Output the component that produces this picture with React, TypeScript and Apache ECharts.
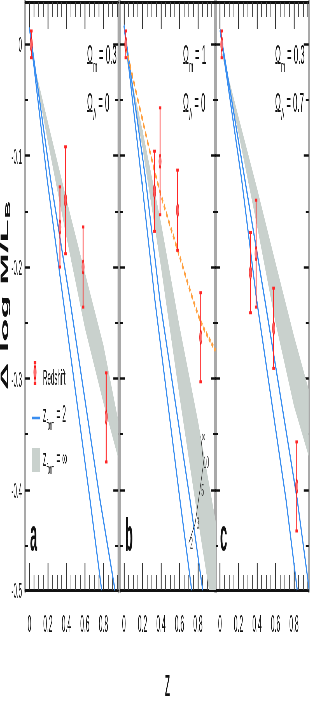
import React, { useEffect, useRef } from "react";
import * as echarts from "echarts";

// whole figure is drawn wide, then squeezed horizontally (the reference is a squeezed figure)
const S = 0.28;
const W = 311 / S;
const H = 708;
const X = (x: number) => x / S;
const FONT = "'Liberation Sans', Arial, sans-serif";

const panelLetters = ["a", "b", "c"];
const omegaM = ["0.3", "1", "0.3"];
const omegaL = ["0", "0", "0.7"];
const xRanges = [
  [-0.048, 0.961],
  [-0.043, 0.995],
  [-0.054, 0.959],
];
const gridLefts = [25, 120, 215];
const gridWidths = [93.3, 96, 93.7];

const xTickVals = [0, 0.2, 0.4, 0.6, 0.8];
const xTickLabels = ["0", "0.2", "0.4", "0.6", "0.8"];
const xMinorVals = [0.05, 0.1, 0.15, 0.25, 0.3, 0.35, 0.45, 0.5, 0.55, 0.65, 0.7, 0.75, 0.85, 0.9, 0.95];
const yMin = -0.49;
const yMax = 0.038;
const yMajorVals = [0, -0.1, -0.2, -0.3, -0.4];
const yMinorVals = [-0.05, -0.15, -0.25, -0.35, -0.45];
const yLabelVals = [0, -0.1, -0.2, -0.3, -0.4, -0.49];
const yTickLabels = ["0", "-0.1", "-0.2", "-0.3", "-0.4", "-0.5"];

// cluster data (redshift, Δ log M/L_B, error)
const clusterZ = [0.02, 0.33, 0.39, 0.58, 0.83];
const dlogA = [0, -0.164, -0.14, -0.2, -0.335];
const dlogB = [0, -0.132, -0.105, -0.149, -0.263];
const dlogC = [0, -0.205, -0.188, -0.255, -0.397];
const dlogErr = [0.012, 0.036, 0.048, 0.036, 0.04];

// z_form = 2 model curves (two per panel)
const blueA1 = [[0, 0.015], [0.193, -0.122], [0.366, -0.23], [0.655, -0.409], [0.781, -0.49]];
const blueA2 = [[0, 0.015], [0.23, -0.122], [0.439, -0.23], [0.763, -0.409], [0.925, -0.49]];
const blueB1 = [[0, 0.017], [0.191, -0.122], [0.335, -0.23], [0.605, -0.409], [0.732, -0.49]];
const blueB2 = [[0, 0.017], [0.235, -0.122], [0.389, -0.23], [0.714, -0.409], [0.851, -0.49]];
const blueC1 = [[0, 0.013], [0.235, -0.122], [0.397, -0.23], [0.714, -0.409], [0.835, -0.49]];
const blueC2 = [[0, 0.013], [0.27, -0.122], [0.486, -0.23], [0.835, -0.409], [0.965, -0.49]];

// z_form = ∞ band (lower / upper edge)
const bandALow = [[0, 0], [0.2, -0.088], [0.4, -0.173], [0.6, -0.255], [0.8, -0.322], [0.961, -0.372]];
const bandAUp = [[0, 0], [0.2, -0.07], [0.4, -0.139], [0.6, -0.205], [0.8, -0.27], [0.961, -0.338]];
const bandBLow = [[0, 0], [0.2, -0.093], [0.4, -0.2], [0.6, -0.316], [0.8, -0.427], [0.995, -0.53]];
const bandBUp = [[0, 0], [0.2, -0.077], [0.4, -0.16], [0.6, -0.253], [0.8, -0.338], [0.995, -0.43]];
const bandCLow = [[0, 0], [0.2, -0.08], [0.4, -0.163], [0.6, -0.25], [0.8, -0.325], [0.959, -0.37]];
const bandCUp = [[0, 0], [0.2, -0.065], [0.4, -0.129], [0.6, -0.196], [0.8, -0.262], [0.959, -0.31]];

// dashed fit in panel b
const orangeB = [[0.02, -0.002], [0.35, -0.12], [0.6, -0.19], [0.82, -0.247], [0.99, -0.275]];

// z_form scale drawn in panel b (label, z, Δ log M/L position)
const zfLabels = ["∞", "10", "5", "3", "2"];
const zfPosZ = [0.86, 0.89, 0.85, 0.8, 0.73];
const zfPosV = [-0.352, -0.376, -0.401, -0.43, -0.448];

const dlogs = [dlogA, dlogB, dlogC];
const blues = [[blueA1, blueA2], [blueB1, blueB2], [blueC1, blueC2]];
const bands = [[bandALow, bandAUp], [bandBLow, bandBUp], [bandCLow, bandCUp]];

const RED = "#ff2626";
const BLUE = "#3a8ef0";
const BAND = "#c9d1cd";

let measureCtx: CanvasRenderingContext2D | null = null;
function measure(text: string, size: number, weight = "normal") {
  if (!measureCtx) measureCtx = document.createElement("canvas").getContext("2d");
  if (!measureCtx) return text.length * size * 0.55;
  measureCtx.font = `${weight} ${size}px ${FONT}`;
  return measureCtx.measureText(text).width;
}

function txt(x: number, y: number, text: string, size: number, extra: any = {}) {
  return {
    type: "text",
    x,
    y,
    silent: true,
    style: {
      text,
      fontSize: size,
      fontFamily: FONT,
      fill: "#111",
      textAlign: "left",
      textVerticalAlign: "middle",
      ...extra,
    },
  };
}

// text with a subscript: main + sub + rest, left aligned at (x,y) (unscaled coords)
function subLabel(x: number, y: number, main: string, sub: string, rest: string, size: number, subSize: number) {
  const w1 = measure(main, size);
  const w2 = measure(sub, subSize);
  return {
    type: "group",
    x,
    y,
    silent: true,
    children: [
      txt(0, 0, main, size),
      txt(w1 + 1, size * 0.45, sub, subSize),
      txt(w1 + w2 + 8, 0, rest, size),
    ],
  };
}

function buildOption() {
  const grids: any[] = [];
  const xAxes: any[] = [];
  const yAxes: any[] = [];
  const series: any[] = [];
  const fmtX = (v: number) => {
    const k = xTickVals.findIndex((t) => Math.abs(t - v) < 1e-6);
    return k >= 0 ? xTickLabels[k] : "";
  };
  const fmtY = (v: number) => {
    const k = yLabelVals.findIndex((t) => Math.abs(t - v) < 1e-6);
    return k >= 0 ? yTickLabels[k] : "";
  };

  for (let i = 0; i < 3; i++) {
    grids.push({ left: X(gridLefts[i]), width: X(gridWidths[i]), top: 2, height: 588, containLabel: false });
    const [mn, mx] = xRanges[i];
    const xBase = { type: "value", gridIndex: i, min: mn, max: mx, splitLine: { show: false } };
    xAxes.push({
      ...xBase,
      position: "bottom",
      axisLine: { show: true, onZero: false, lineStyle: { color: "#111", width: 3 } },
      axisTick: { show: true, inside: true, length: 27, customValues: xTickVals, lineStyle: { color: "#333", width: X(0.9) } },
      axisLabel: {
        show: true,
        customValues: xTickVals,
        formatter: fmtX,
        margin: 22,
        fontSize: 24,
        fontFamily: FONT,
        color: "#111",
      },
    });
    xAxes.push({
      ...xBase,
      position: "bottom",
      axisLine: { show: false, onZero: false },
      axisTick: { show: true, inside: true, length: 15, customValues: xMinorVals, lineStyle: { color: "#444", width: X(0.8) } },
      axisLabel: { show: false },
    });
    xAxes.push({
      ...xBase,
      position: "top",
      axisLine: { show: true, onZero: false, lineStyle: { color: "#111", width: 3 } },
      axisTick: { show: true, inside: true, length: 27, customValues: xTickVals, lineStyle: { color: "#333", width: X(0.9) } },
      axisLabel: { show: false },
    });
    xAxes.push({
      ...xBase,
      position: "top",
      axisLine: { show: false, onZero: false },
      axisTick: { show: true, inside: true, length: 15, customValues: xMinorVals, lineStyle: { color: "#444", width: X(0.8) } },
      axisLabel: { show: false },
    });

    const yBase = { type: "value", gridIndex: i, min: yMin, max: yMax, splitLine: { show: false } };
    yAxes.push({
      ...yBase,
      position: "left",
      axisLine: { show: true, onZero: false, lineStyle: { color: "#a9a9a9", width: X(1.8) } },
      axisTick: { show: true, inside: true, length: X(5), customValues: yMajorVals, lineStyle: { color: "#111", width: 2.5 } },
      axisLabel: {
        show: i === 0,
        customValues: yLabelVals,
        formatter: fmtY,
        margin: X(3),
        fontSize: 22,
        fontFamily: FONT,
        color: "#111",
      },
    });
    yAxes.push({
      ...yBase,
      position: "left",
      axisLine: { show: false, onZero: false },
      axisTick: { show: true, inside: true, length: X(3), customValues: yMinorVals, lineStyle: { color: "#111", width: 2 } },
      axisLabel: { show: false },
    });
    yAxes.push({
      ...yBase,
      position: "right",
      axisLine: { show: true, onZero: false, lineStyle: { color: "#a9a9a9", width: X(1.8) } },
      axisTick: { show: true, inside: true, length: X(5), customValues: yMajorVals, lineStyle: { color: "#111", width: 2.5 } },
      axisLabel: { show: false },
    });
    yAxes.push({
      ...yBase,
      position: "right",
      axisLine: { show: false, onZero: false },
      axisTick: { show: true, inside: true, length: X(3), customValues: yMinorVals, lineStyle: { color: "#111", width: 2 } },
      axisLabel: { show: false },
    });

    const xi = i * 4;
    const yi = i * 4;
    const [low, up] = bands[i];
    series.push({
      type: "custom",
      xAxisIndex: xi,
      yAxisIndex: yi,
      clip: true,
      z: 1,
      silent: true,
      data: low.map((p, k) => [p[0], p[1], up[k][1]]),
      renderItem: (params: any, api: any) => {
        if (params.dataIndex !== 0) return null;
        const pts = [
          ...low.map((p) => api.coord(p)),
          ...up
            .slice()
            .reverse()
            .map((p) => api.coord(p)),
        ];
        const cs = params.coordSys;
        return {
          type: "group",
          children: [{ type: "polygon", shape: { points: pts }, style: { fill: BAND } }],
          clipPath: { type: "rect", shape: { x: cs.x, y: cs.y, width: cs.width, height: cs.height } },
        };
      },
    });
    for (const b of blues[i]) {
      series.push({
        type: "line",
        xAxisIndex: xi,
        yAxisIndex: yi,
        data: b,
        showSymbol: false,
        symbol: "none",
        clip: true,
        z: 2,
        lineStyle: { color: BLUE, width: X(1.05) },
      });
    }
    if (i === 1) {
      series.push({
        type: "line",
        xAxisIndex: xi,
        yAxisIndex: yi,
        data: orangeB,
        showSymbol: false,
        symbol: "none",
        smooth: 0.3,
        clip: true,
        z: 2,
        lineStyle: { color: "#ffa040", width: 4.5, type: [7, 4] },
      });
      series.push({
        type: "line",
        xAxisIndex: xi,
        yAxisIndex: yi,
        data: zfPosZ.map((z, k) => [z - 0.03, zfPosV[k]]),
        showSymbol: false,
        symbol: "none",
        clip: true,
        z: 3,
        silent: true,
        lineStyle: { color: "#222", width: X(0.4) },
      });
      series.push({
        type: "scatter",
        xAxisIndex: xi,
        yAxisIndex: yi,
        z: 3,
        silent: true,
        symbolSize: 0.1,
        data: zfPosZ.map((z, k) => [z, zfPosV[k]]),
        label: {
          show: true,
          position: "inside",
          formatter: (p: any) => zfLabels[p.dataIndex],
          fontSize: 17,
          fontFamily: FONT,
          color: "#111",
        },
      });
    }
    const d = dlogs[i];
    series.push({
      type: "custom",
      xAxisIndex: xi,
      yAxisIndex: yi,
      z: 3,
      silent: true,
      data: clusterZ.map((z, k) => [z, d[k], dlogErr[k]]),
      encode: { x: 0, y: 1 },
      renderItem: (params: any, api: any) => {
        const z = api.value(0);
        const v = api.value(1);
        const e = api.value(2);
        const t = api.coord([z, v + e]);
        const b = api.coord([z, v - e]);
        const sw = X(2.6);
        const sh = 3;
        return {
          type: "group",
          children: [
            { type: "line", shape: { x1: t[0], y1: t[1], x2: b[0], y2: b[1] }, style: { stroke: RED, lineWidth: X(0.9) } },
            { type: "rect", shape: { x: t[0] - sw / 2, y: t[1] - sh / 2, width: sw, height: sh }, style: { fill: RED } },
            { type: "rect", shape: { x: b[0] - sw / 2, y: b[1] - sh / 2, width: sw, height: sh }, style: { fill: RED } },
          ],
        };
      },
    });
    series.push({
      type: "scatter",
      xAxisIndex: xi,
      yAxisIndex: yi,
      z: 4,
      silent: true,
      data: clusterZ.map((z, k) => [z, d[k]]),
      symbol: "circle",
      symbolSize: [X(2.4), 13],
      itemStyle: { color: "#ff6b6b", borderColor: "#f01010", borderWidth: 2 },
    });
  }

  const graphic: any[] = [];
  const omX = [87, 183, 275];
  for (let i = 0; i < 3; i++) {
    graphic.push(subLabel(X(omX[i]), 54, "Ω", "m", "= " + omegaM[i], 28, 17));
    graphic.push(subLabel(X(omX[i]), 102, "Ω", "Λ", "= " + omegaL[i], 28, 17));
    graphic.push(txt(X([30, 125, 220][i]), 535, panelLetters[i], 46, { fontWeight: "bold" }));
  }
  graphic.push(txt(X(167.5), 683, "z", 38, { textAlign: "center" }));
  {
    const size = 38;
    const main = "Δ log M/L";
    const w1 = measure(main, size, "bold");
    const w2 = measure("B", 24, "bold");
    const total = w1 + w2;
    graphic.push({
      type: "group",
      x: X(4.5),
      y: 296,
      rotation: Math.PI / 2,
      silent: true,
      children: [
        txt(-total / 2, 0, main, size, { fontWeight: "bold" }),
        txt(-total / 2 + w1 + 1, 12, "B", 24, { fontWeight: "bold" }),
      ],
    });
  }
  // legend
  graphic.push({
    type: "line",
    silent: true,
    shape: { x1: X(35), y1: 362, x2: X(35), y2: 383 },
    style: { stroke: RED, lineWidth: X(0.9) },
  });
  graphic.push({ type: "rect", silent: true, shape: { x: X(35) - X(1.3), y: 361, width: X(2.6), height: 3 }, style: { fill: RED } });
  graphic.push({ type: "rect", silent: true, shape: { x: X(35) - X(1.3), y: 382, width: X(2.6), height: 3 }, style: { fill: RED } });
  graphic.push({
    type: "ellipse",
    silent: true,
    shape: { cx: X(35), cy: 372.5, rx: X(1.2), ry: 6.5 },
    style: { fill: "#ff6b6b", stroke: "#f01010", lineWidth: 2 },
  });
  graphic.push(txt(X(43), 377, "Redshift", 22));
  graphic.push({
    type: "line",
    silent: true,
    shape: { x1: X(32), y1: 418, x2: X(40), y2: 418 },
    style: { stroke: BLUE, lineWidth: 2.5 },
  });
  graphic.push(subLabel(X(43), 414, "z", "form", "= 2", 24, 14));
  graphic.push({ type: "rect", silent: true, shape: { x: X(32), y: 448, width: X(8), height: 24 }, style: { fill: BAND } });
  graphic.push(subLabel(X(43), 458, "z", "form", "= ∞", 24, 14));

  return {
    animation: false,
    backgroundColor: "#fff",
    grid: grids,
    xAxis: xAxes,
    yAxis: yAxes,
    series,
    graphic,
  };
}

export default function App() {
  const ref = useRef<HTMLDivElement>(null);
  useEffect(() => {
    if (!ref.current) return;
    const chart = echarts.init(ref.current, undefined, { renderer: "svg" });
    chart.setOption(buildOption() as any);
    return () => chart.dispose();
  }, []);
  return (
    <div style={{ position: "absolute", left: 0, top: 0, width: 311, height: H, overflow: "hidden", background: "#fff" }}>
      <div
        ref={ref}
        style={{
          width: W,
          height: H,
          transform: `scaleX(${S})`,
          transformOrigin: "0 0",
          willChange: "transform",
          WebkitFontSmoothing: "antialiased",
        } as any}
      />
    </div>
  );
}
